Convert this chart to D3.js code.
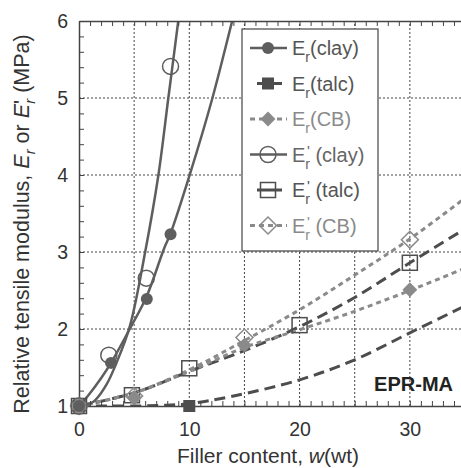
<!doctype html>
<html>
<head>
	<meta charset='utf-8'/>
	<script src="https://d3js.org/d3.v7.min.js"></script>
	<style>
		body { margin: 0; background: #fff; }
		svg { font-family: "Liberation Sans", Arial, Helvetica, sans-serif; }
		text { white-space: pre; }
	</style>
</head>
<body>
	<div id="chart"></div>
	<script>
		// measured points
		var clayErX = [0, 2.9, 6.15, 8.3];
		var clayErY = [1, 1.56, 2.39, 3.23];
		var talcErX = [0, 10];
		var talcErY = [1, 1.0];
		var cbErX = [0, 5, 15, 30];
		var cbErY = [1, 1.11, 1.79, 2.51];
		var clayEpX = [0, 2.7, 6.1, 8.3];
		var clayEpY = [1, 1.66, 2.66, 5.41];
		var talcEpX = [0, 4.8, 10, 20, 30];
		var talcEpY = [1, 1.14, 1.49, 2.05, 2.86];
		var cbEpX = [0, 5, 15, 30];
		var cbEpY = [1, 1.13, 1.89, 3.16];

		// fitted curves
		var clayErFitX = [0, 0.8, 2, 2.9, 4.6, 6.15, 7.7, 8.3, 10.1, 12.1, 13.8, 14.5];
		var clayErFitY = [1, 1.13, 1.36, 1.56, 2.0, 2.43, 3.04, 3.24, 4.03, 5.0, 5.95, 6.35];
		var talcErFitX = [0, 5, 8, 10, 13.7, 20, 25, 30, 35];
		var talcErFitY = [1, 1.0, 1.01, 1.03, 1.12, 1.34, 1.6, 1.95, 2.3];
		var cbErFitX = [0, 5, 10, 15, 20, 25, 30, 35];
		var cbErFitY = [1, 1.17, 1.45, 1.76, 1.99, 2.23, 2.5, 2.79];
		var clayEpFitX = [0, 1, 1.5, 2.5, 3.4, 4.6, 6, 7.2, 8.1, 9, 9.5];
		var clayEpFitY = [1, 1.03, 1.08, 1.28, 1.56, 2.03, 3.0, 4.0, 5.0, 6.0, 6.6];
		var talcEpFitX = [0, 5, 10, 15, 20, 25, 30, 35];
		var talcEpFitY = [1, 1.17, 1.45, 1.72, 2.03, 2.41, 2.86, 3.3];
		var cbEpFitX = [0, 5, 10, 15, 20, 25, 30, 35];
		var cbEpFitY = [1, 1.17, 1.47, 1.85, 2.25, 2.7, 3.17, 3.7];

		var xTickLabels = [0, 10, 20, 30];
		var yTickLabels = [1, 2, 3, 4, 5, 6];
		var xGrid = [5, 10, 15, 20, 25, 30];
		var yGrid = [2, 3, 4, 5];

		var width = 461,
			height = 468;

		var x = d3.scaleLinear().domain([0, 35]).range([79, 465]);
		var y = d3.scaleLinear().domain([1, 6]).range([406, 21]);

		var dark = "#555", mid = "#5e5e5e", light = "#8a8a8a";

		var series = [
			{fx: talcErFitX, fy: talcErFitY, px: talcErX, py: talcErY, color: "#4d4d4d", dash: "11,6", width: 3,
				shape: "square", open: false, size: 12, label: ["E", "r", "", "(talc)"], text: dark},
			{fx: talcEpFitX, fy: talcEpFitY, px: talcEpX, py: talcEpY, color: "#4d4d4d", dash: "11,6", width: 3,
				shape: "square", open: true, size: 15, label: ["E", "r", "'", " (talc)"], text: dark},
			{fx: cbErFitX, fy: cbErFitY, px: cbErX, py: cbErY, color: light, dash: "5,4", width: 3,
				shape: "diamond", open: false, size: 10.5, label: ["E", "r", "", "(CB)"], text: light},
			{fx: cbEpFitX, fy: cbEpFitY, px: cbEpX, py: cbEpY, color: light, dash: "5,4", width: 3,
				shape: "diamond", open: true, size: 12, label: ["E", "r", "'", " (CB)"], text: light},
			{fx: clayErFitX, fy: clayErFitY, px: clayErX, py: clayErY, color: mid, dash: null, width: 2.5,
				shape: "circle", open: false, size: 6, label: ["E", "r", "", "(clay)"], text: dark},
			{fx: clayEpFitX, fy: clayEpFitY, px: clayEpX, py: clayEpY, color: mid, dash: null, width: 2.5,
				shape: "circle", open: true, size: 8, label: ["E", "r", "'", " (clay)"], text: "#666"}
		];
		// legend order
		var legendOrder = [4, 0, 2, 5, 1, 3];

		var svg = d3.select("#chart").append("svg")
			.attr("width", width)
			.attr("height", height);

		svg.append("clipPath").attr("id", "plot-clip")
			.append("rect")
			.attr("x", x(0)).attr("y", y(6))
			.attr("width", x(35) - x(0)).attr("height", y(1) - y(6));

		// grid
		svg.selectAll(".gx").data(xGrid).enter().append("line")
			.attr("x1", function(d) { return x(d); })
			.attr("x2", function(d) { return x(d); })
			.attr("y1", y(1)).attr("y2", y(6))
			.attr("stroke", "#444").attr("stroke-width", 1).attr("stroke-dasharray", "2,2");
		svg.selectAll(".gy").data(yGrid).enter().append("line")
			.attr("x1", x(0)).attr("x2", x(35))
			.attr("y1", function(d) { return y(d); })
			.attr("y2", function(d) { return y(d); })
			.attr("stroke", "#444").attr("stroke-width", 1).attr("stroke-dasharray", "2,2");

		var line = d3.line()
			.x(function(d) { return x(d[0]); })
			.y(function(d) { return y(d[1]); })
			.curve(d3.curveCatmullRom);

		var lines = svg.append("g").attr("clip-path", "url(#plot-clip)");
		series.forEach(function(s) {
			lines.append("path")
				.attr("d", line(d3.zip(s.fx, s.fy)))
				.attr("fill", "none")
				.attr("stroke", s.color)
				.attr("stroke-width", s.width)
				.attr("stroke-dasharray", s.dash);
		});

		// axes with inward minor ticks
		var xTicks = d3.range(0, 36, 1);
		var yTicks = d3.range(1, 6.001, 0.2);

		svg.append("g")
			.attr("transform", "translate(0," + y(1) + ")")
			.call(d3.axisBottom(x).tickValues(xTicks).tickSizeInner(-5).tickSizeOuter(0).tickPadding(16)
				.tickFormat(function(d) { return xTickLabels.indexOf(d) >= 0 ? d : ""; }))
			.call(styleAxis);
		svg.append("g")
			.attr("transform", "translate(0," + y(6) + ")")
			.call(d3.axisTop(x).tickValues(xTicks).tickSizeInner(-5).tickSizeOuter(0).tickFormat(""))
			.call(styleAxis);
		svg.append("g")
			.attr("transform", "translate(" + x(0) + ",0)")
			.call(d3.axisLeft(y).tickValues(yTicks).tickSizeInner(-5).tickSizeOuter(0).tickPadding(11)
				.tickFormat(function(d) {
					var r = Math.round(d);
					return (Math.abs(d - r) < 1e-6 && yTickLabels.indexOf(r) >= 0) ? r : "";
				}))
			.call(styleAxis);

		function styleAxis(g) {
			g.select(".domain").attr("stroke", "#444").attr("stroke-width", 1.5);
			g.selectAll(".tick line").attr("stroke", "#444").attr("stroke-width", 1);
			g.selectAll(".tick text").attr("fill", "#333").style("font-size", "19.5px")
				.style("font-family", "'Liberation Sans', Arial, sans-serif");
		}

		function drawMarker(g, s, cx, cy) {
			var m;
			if (s.shape == "circle") {
				m = g.append("circle").attr("cx", cx).attr("cy", cy).attr("r", s.size);
			} else if (s.shape == "square") {
				m = g.append("rect").attr("x", cx - s.size / 2).attr("y", cy - s.size / 2)
					.attr("width", s.size).attr("height", s.size);
			} else {
				m = g.append("rect").attr("x", -s.size / 2).attr("y", -s.size / 2)
					.attr("width", s.size).attr("height", s.size)
					.attr("transform", "translate(" + cx + "," + cy + ") rotate(45)");
			}
			if (s.open) {
				m.attr("fill", "none").attr("stroke", s.color).attr("stroke-width", 1.5);
			} else {
				m.attr("fill", s.color).attr("stroke", "none");
			}
		}

		var markers = svg.append("g");
		series.forEach(function(s) {
			for (var i = 0; i < s.px.length; i++) {
				drawMarker(markers, s, x(s.px[i]), y(s.py[i]));
			}
		});

		// legend
		var lg = svg.append("g");
		lg.append("rect")
			.attr("x", 242).attr("y", 29).attr("width", 136).attr("height", 222)
			.attr("fill", "#fff").attr("stroke", "#444").attr("stroke-width", 1.2);

		legendOrder.forEach(function(k, i) {
			var s = series[k];
			var cy = 48 + i * 35.5;
			var x1 = s.shape == "square" ? 257 : 250,
				x2 = s.shape == "square" ? 282 : 287;
			lg.append("line")
				.attr("x1", x1).attr("x2", x2).attr("y1", cy).attr("y2", cy)
				.attr("stroke", s.color).attr("stroke-width", s.width)
				.attr("stroke-dasharray", s.shape == "diamond" ? "5,4" : null);
			drawMarker(lg, s, 268, cy);

			var t = lg.append("text")
				.attr("x", 292).attr("y", cy + 7)
				.attr("fill", s.text)
				.style("font-size", "20px");
			t.append("tspan").text(s.label[0]);
			t.append("tspan").attr("dy", 7).style("font-size", "14px").text(s.label[1]);
			if (s.label[2]) {
				t.append("tspan").attr("dx", -3).attr("dy", -13).style("font-size", "15px").text(s.label[2]);
				t.append("tspan").attr("dy", 6).text(s.label[3]);
			} else {
				t.append("tspan").attr("dy", -7).text(s.label[3]);
			}
		});

		// axis titles
		var xt = svg.append("text")
			.attr("x", 268).attr("y", 463)
			.attr("text-anchor", "middle")
			.attr("fill", "#333")
			.style("font-size", "21px");
		xt.append("tspan").text("Filler content, ");
		xt.append("tspan").style("font-style", "italic").text("w");
		xt.append("tspan").text("(wt)");

		var yt = svg.append("text")
			.attr("transform", "translate(29,224) rotate(-90)")
			.attr("text-anchor", "middle")
			.attr("fill", "#333")
			.style("font-size", "21.5px");
		yt.append("tspan").text("Relative tensile modulus, ");
		yt.append("tspan").style("font-style", "italic").text("E");
		yt.append("tspan").attr("dy", 6).style("font-style", "italic").style("font-size", "15px").text("r");
		yt.append("tspan").attr("dy", -6).text(" or ");
		yt.append("tspan").style("font-style", "italic").text("E");
		yt.append("tspan").text("'");
		yt.append("tspan").attr("dx", -4).attr("dy", 6).style("font-style", "italic").style("font-size", "15px").text("r");
		yt.append("tspan").attr("dy", -6).text(" (MPa)");

		svg.append("text")
			.attr("x", 453).attr("y", 391)
			.attr("text-anchor", "end")
			.attr("fill", "#222")
			.style("font-size", "20px")
			.style("font-weight", "bold")
			.text("EPR-MA");
	</script>
</body>
</html>
